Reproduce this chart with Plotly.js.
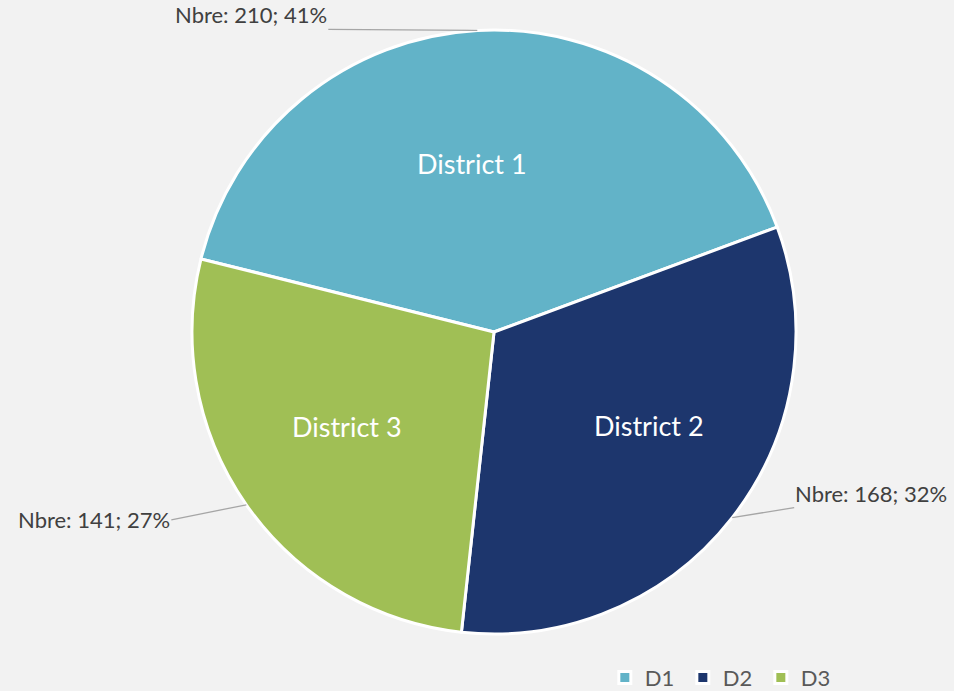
<!DOCTYPE html>
<html>
<head>
<meta charset="utf-8">
<script src="https://cdn.plot.ly/plotly-3.0.1.min.js"></script>
<style>html,body{margin:0;padding:0;background:#f2f2f2;}</style>
</head>
<body>
<div id="chart" style="width:954px;height:691px;"></div>
<script>
// Data
const labels = ["D1", "D2", "D3"];
const districts = ["District 1", "District 2", "District 3"];
const counts = [210, 168, 141];
const percents = [41, 32, 27];
const colors = ["#62b3c8", "#1d366d", "#a0bf55"];

const W = 954, H = 691;
const cxPx = 494, cyPx = 332, R = 302;
const rotation = -76;

const total = counts.reduce((a, b) => a + b, 0);

// outside label tail offsets (pixels, relative to slice edge point) and anchors
const tails = [
  {ax: -149, ay: -1, xanchor: "right", yanchor: "bottom"},
  {ax: 62, ay: -10, xanchor: "left", yanchor: "bottom"},
  {ax: -75, ay: 15, xanchor: "right", yanchor: "middle"}
];
// inside label placement (fraction of radius, angle tweak in degrees)
const inside = [
  {r: 0.563, dt: 4.4},
  {r: 0.60, dt: 6.9},
  {r: 0.58, dt: -2.2}
];

const annotations = [];
let startDeg = 90 - rotation; // math degrees
counts.forEach((v, i) => {
  const span = 360 * v / total;
  const midDeg = startDeg - span / 2;
  startDeg -= span;
  const mid = midDeg * Math.PI / 180;
  const px = cxPx + R * Math.cos(mid);
  const py = cyPx - R * Math.sin(mid);
  annotations.push({
    x: px / W, y: 1 - py / H, xref: "paper", yref: "paper",
    text: "Nbre: " + v + "; " + percents[i] + "%",
    showarrow: true, arrowhead: 0, arrowwidth: 1.3, arrowcolor: "#a6a6a6",
    standoff: 0, startstandoff: 0,
    ax: tails[i].ax, ay: tails[i].ay,
    xanchor: tails[i].xanchor, yanchor: tails[i].yanchor,
    borderpad: 0,
    font: {family: "Lato, sans-serif", size: 22, color: "#404040"}
  });
  const a2 = (midDeg + inside[i].dt) * Math.PI / 180;
  const ix = cxPx + inside[i].r * R * Math.cos(a2);
  const iy = cyPx - inside[i].r * R * Math.sin(a2);
  annotations.push({
    x: ix / W, y: 1 - iy / H, xref: "paper", yref: "paper",
    text: districts[i], showarrow: false,
    xanchor: "center", yanchor: "middle",
    font: {family: "Lato, sans-serif", size: 27, color: "#ffffff"}
  });
});

const trace = {
  type: "pie",
  labels: labels,
  values: counts,
  textinfo: "none",
  marker: {colors: colors, line: {color: "#ffffff", width: 3}},
  sort: false,
  direction: "clockwise",
  rotation: rotation,
  hoverinfo: "none",
  domain: {x: [(cxPx - R) / W, (cxPx + R) / W], y: [1 - (cyPx + R) / H, 1 - (cyPx - R) / H]}
};

const layout = {
  width: W, height: H,
  margin: {l: 0, r: 0, t: 0, b: 0, autoexpand: false},
  paper_bgcolor: "#f2f2f2",
  plot_bgcolor: "#f2f2f2",
  showlegend: true,
  legend: {
    orientation: "h", x: 0.634, y: -0.011, xanchor: "left", yanchor: "bottom",
    font: {family: "Lato, sans-serif", size: 22, color: "#595959"},
    bgcolor: "rgba(0,0,0,0)", itemclick: false,
    entrywidth: 33, entrywidthmode: "pixels"
  },
  annotations: annotations
};

Plotly.newPlot("chart", [trace], layout, {displayModeBar: false, staticPlot: true});
</script>
</body>
</html>
